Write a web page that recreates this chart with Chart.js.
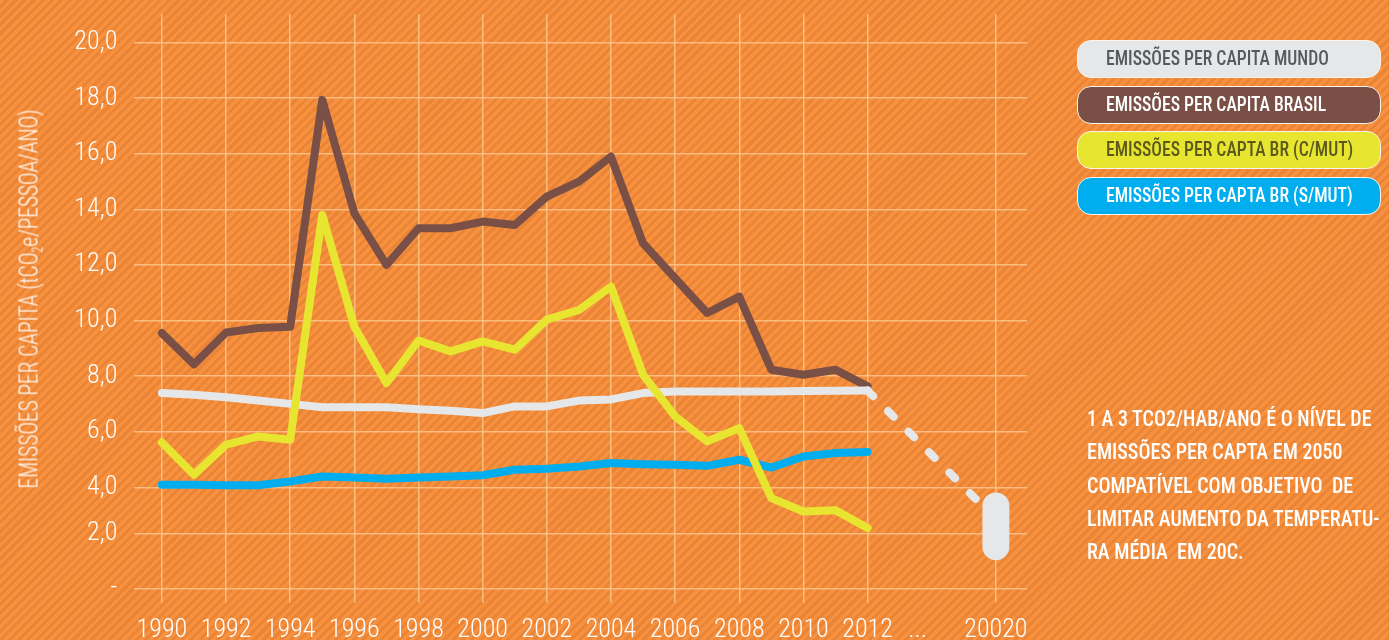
<!DOCTYPE html>
<html lang="pt">
<head>
<meta charset="utf-8">
<title>Emissões per capita</title>
<script src="https://cdn.jsdelivr.net/npm/chart.js@4.4.0/dist/chart.umd.min.js"></script>
<style>
  html, body { margin: 0; padding: 0; }
  body {
    width: 1389px; height: 640px; overflow: hidden; position: relative;
    background: repeating-linear-gradient(135deg, #F7913D 0 3.4px, #EA8538 3.4px 6.4px);
    font-family: Roboto, "Open Sans", sans-serif;
    font-stretch: 75%;
  }
  #chart { position: absolute; left: 0; top: 0; }
  #ytitle {
    position: absolute; left: 29px; top: 299px;
    transform: translate(-50%, -50%) rotate(-90deg) scaleX(0.855);
    white-space: nowrap; color: #fff; font-size: 25px; font-weight: 300; line-height: 25px;
  }
  #ytitle sub { font-size: 14px; vertical-align: -5px; line-height: 0; }
  #legend { position: absolute; left: 1077px; top: 40px; }
  .pill {
    width: 304px; height: 38px; box-sizing: border-box;
    border: 1.5px solid #fdf3ea; border-radius: 14px;
    padding-left: 28px; font-size: 21px; font-weight: 500; line-height: 35px;
    margin-bottom: 7.5px; white-space: nowrap;
  }
  .pill span { display: inline-block; transform: scaleX(0.84); transform-origin: left center; }
  #note {
    position: absolute; left: 1087px; top: 402px;
    color: #fff; font-size: 22.5px; font-weight: 500; line-height: 33.3px; white-space: pre;
    transform: scaleX(0.89); transform-origin: left top;
  }
</style>
</head>
<body>
<canvas id="chart" width="1389" height="640"></canvas>
<div id="ytitle">EMISSÕES PER CAPITA (tCO<sub>2</sub>e/PESSOA/ANO)</div>
<div id="legend"></div>
<div id="note">1 A 3 TCO2/HAB/ANO É O NÍVEL DE
EMISSÕES PER CAPTA EM 2050
COMPATÍVEL COM OBJETIVO  DE
LIMITAR AUMENTO DA TEMPERATU-
RA MÉDIA  EM 20C.</div>
<script>
// valores
const years = [1990, 1991, 1992, 1993, 1994, 1995, 1996, 1997, 1998, 1999, 2000, 2001,
               2002, 2003, 2004, 2005, 2006, 2007, 2008, 2009, 2010, 2011, 2012];
const mundo = [7.39, 7.33, 7.24, 7.12, 7.0, 6.88, 6.88, 6.88, 6.81, 6.75, 6.67, 6.91,
               6.91, 7.12, 7.16, 7.39, 7.45, 7.45, 7.45, 7.45, 7.46, 7.47, 7.48];
const brasil = [9.55, 8.42, 9.57, 9.73, 9.78, 17.94, 13.86, 12.0, 13.32, 13.32, 13.56, 13.44,
                14.46, 15.0, 15.9, 12.78, 11.52, 10.27, 10.86, 8.23, 8.05, 8.23, 7.63];
const brCMut = [5.61, 4.45, 5.53, 5.83, 5.71, 13.8, 9.78, 7.75, 9.28, 8.89, 9.25, 8.95,
                10.03, 10.38, 11.22, 8.05, 6.55, 5.65, 6.13, 3.61, 3.13, 3.17, 2.53];
const brSMut = [4.09, 4.09, 4.07, 4.07, 4.21, 4.39, 4.35, 4.31, 4.35, 4.39, 4.43, 4.63,
                4.67, 4.75, 4.87, 4.83, 4.81, 4.77, 4.99, 4.71, 5.11, 5.23, 5.27];

// projeção do mundo até a meta
const projYears = [2012, 2016];
const projMundo = [7.48, 2.85];
const metaYears = [2016, 2016];
const metaRange = [3.33, 1.86];

const seriesNames = ['EMISSÕES PER CAPITA MUNDO', 'EMISSÕES PER CAPITA BRASIL',
                     'EMISSÕES PER CAPTA BR (C/MUT)', 'EMISSÕES PER CAPTA BR (S/MUT)'];
const seriesColors = ['#E6E7E8', '#7A5046', '#E8E531', '#00AEEF'];
const legendText = ['#58595B', '#FFFFFF', '#5B5A1C', '#FFFFFF'];

// eixos
const xTickValues = [1990, 1992, 1994, 1996, 1998, 2000, 2002, 2004, 2006, 2008, 2010, 2012, 2013.56, 2016];
const xTickLabels = ['1990', '1992', '1994', '1996', '1998', '2000', '2002', '2004', '2006', '2008',
                     '2010', '2012', '...', '20020'];
const yTickValues = [0.35, 2.33, 4, 6, 8, 10, 12, 14, 16, 18, 20];
const yTickLabels = ['-', '2,0', '4,0', '6,0', '8,0', '10,0', '12,0', '14,0', '16,0', '18,0', '20,0'];

const gridColor = 'rgba(253, 196, 140, 0.85)';
const axisFont = { family: 'Roboto, "Open Sans", sans-serif', size: 26, weight: '300 condensed' };

function pts(xs, ys) {
    return xs.map((x, i) => ({ x: x, y: ys[i] }));
}

function lineSet(label, data, color, order) {
    return {
        label: label,
        data: data,
        borderColor: color,
        backgroundColor: color,
        borderWidth: 8,
        borderCapStyle: 'round',
        borderJoinStyle: 'round',
        pointRadius: 0,
        tension: 0,
        order: order
    };
}

// sem folga extra para os rótulos das pontas
function noPadding(scale) {
    scale.paddingTop = 0;
    scale.paddingBottom = 0;
    scale.paddingLeft = 0;
    scale.paddingRight = 0;
}

const datasets = [
    lineSet(seriesNames[0], pts(years, mundo), seriesColors[0], 1),
    lineSet(seriesNames[1], pts(years, brasil), seriesColors[1], 2),
    lineSet(seriesNames[2], pts(years, brCMut), seriesColors[2], 0),
    lineSet(seriesNames[3], pts(years, brSMut), seriesColors[3], 3),
    Object.assign(lineSet('projeção', pts(projYears, projMundo), seriesColors[0], 1), { borderDash: [8, 21] }),
    Object.assign(lineSet('meta', pts(metaYears, metaRange), seriesColors[0], -1), { borderWidth: 27 })
];

const chart = new Chart(document.getElementById('chart'), {
    type: 'line',
    data: { datasets: datasets },
    options: {
        responsive: false,
        animation: false,
        layout: { padding: { top: 14, right: 362, bottom: 0, left: 0 } },
        plugins: { legend: { display: false }, tooltip: { enabled: false } },
        scales: {
            x: {
                type: 'linear',
                min: 1989.14,
                max: 2016.97,
                afterBuildTicks: function(scale) {
                    scale.ticks = xTickValues.map(v => ({ value: v }));
                },
                afterFit: function(scale) {
                    scale.height = 51.3;
                    noPadding(scale);
                },
                ticks: {
                    autoSkip: false,
                    maxRotation: 0,
                    padding: 12,
                    color: '#FFFFFF',
                    font: axisFont,
                    callback: function(value, index) { return xTickLabels[index]; }
                },
                grid: {
                    lineWidth: 1.5,
                    tickLength: 14,
                    color: function(ctx) {
                        if (ctx.tick && xTickLabels[ctx.index] === '...') return 'rgba(0,0,0,0)';
                        return gridColor;
                    }
                },
                border: { display: false }
            },
            y: {
                type: 'linear',
                min: 0.35,
                max: 21.03,
                afterBuildTicks: function(scale) {
                    scale.ticks = yTickValues.map(v => ({ value: v }));
                },
                afterFit: function(scale) {
                    scale.width = 134.3;
                    noPadding(scale);
                },
                ticks: {
                    padding: 17,
                    color: '#FFFFFF',
                    font: axisFont,
                    callback: function(value, index) { return yTickLabels[index]; }
                },
                grid: { lineWidth: 1.5, drawTicks: false, color: gridColor },
                border: { display: false }
            }
        }
    }
});

// legenda em pílulas, montada a partir das séries do gráfico
const legendEl = document.getElementById('legend');
chart.data.datasets.slice(0, 4).forEach(function(ds, i) {
    const item = document.createElement('div');
    item.className = 'pill';
    item.style.background = ds.borderColor;
    item.style.color = legendText[i];
    const text = document.createElement('span');
    text.textContent = ds.label;
    item.appendChild(text);
    legendEl.appendChild(item);
});
</script>
</body>
</html>
